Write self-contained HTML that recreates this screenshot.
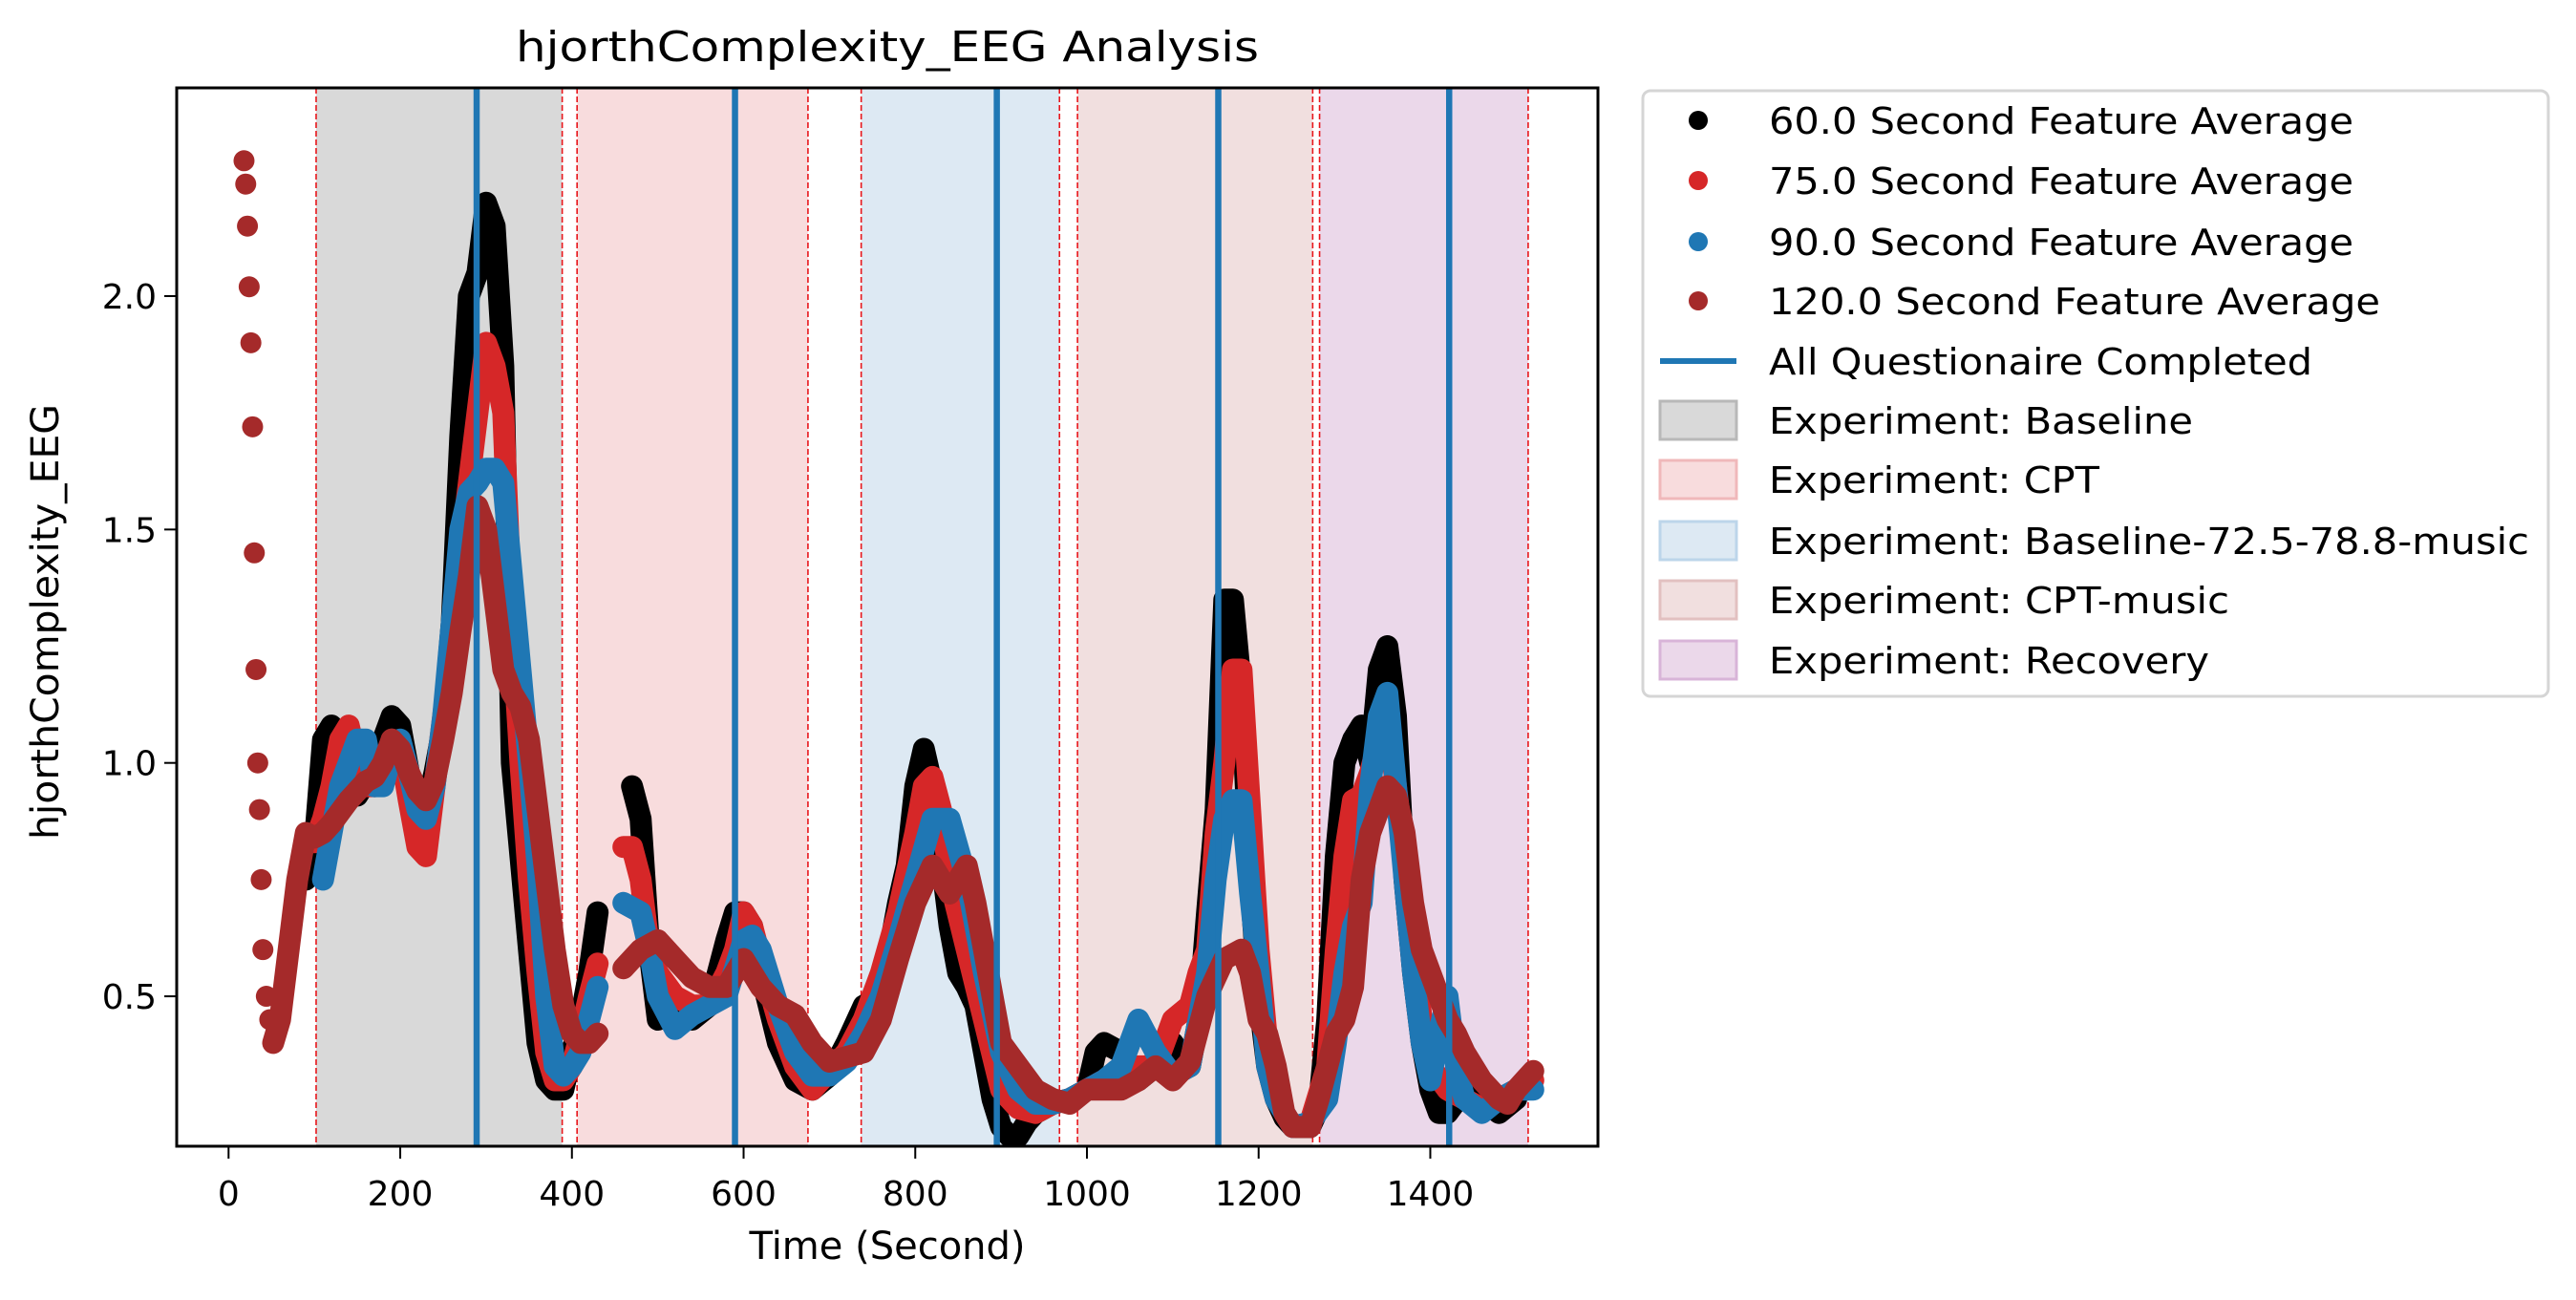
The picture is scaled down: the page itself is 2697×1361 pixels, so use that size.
<!DOCTYPE html>
<html><head><meta charset="utf-8"><style>
html,body{margin:0;padding:0;background:#fff;}
svg{display:block;font-family:"DejaVu Sans","Liberation Sans",sans-serif;}
</style></head><body>
<svg id="chart" xmlns="http://www.w3.org/2000/svg" width="2697" height="1361" viewBox="0 0 2697 1361">
<rect x="0" y="0" width="2697" height="1361" fill="#fff"/>
<g id="spans"></g>
<g id="dashes"></g>
<g id="series"></g>
<g id="vlines"></g>
<rect x="185" y="92" width="1488" height="1108" fill="none" stroke="#000" stroke-width="3"/>
<g id="axes"></g>
<text x="929" y="64" font-size="44" text-anchor="middle" textLength="778" lengthAdjust="spacingAndGlyphs">hjorthComplexity_EEG Analysis</text>
<text x="929" y="1318" font-size="40" text-anchor="middle">Time (Second)</text>
<text transform="translate(61,651) rotate(-90)" font-size="40" text-anchor="middle" textLength="456" lengthAdjust="spacingAndGlyphs">hjorthComplexity_EEG</text>
<g id="legend">
<rect x="1720" y="95" width="948" height="634" rx="8" fill="#fff" stroke="#d5d5d5" stroke-width="3"/>
</g>
</svg>
<script>
// ---- data ----
const xTicks = [0,200,400,600,800,1000,1200,1400];
const yTicks = [0.5,1.0,1.5,2.0];
const spanNames = ["Baseline","CPT","Baseline-72.5-78.8-music","CPT-music","Recovery"];
const spanStart = [102,406,737,989,1271];
const spanEnd = [388.7,675,968,1263,1514];
const questTimes = [289,590,895,1153,1422];

const blackT = [90,100,110,120,130,140,150,160,170,180,190,200,210,220,230,240,250,260,270,280,290,300,310,320,330,340,350,360,370,380,390,400,410,420,430,470,480,490,500,520,540,560,580,590,600,610,620,640,660,680,700,720,740,760,780,790,800,810,820,830,840,850,860,870,880,890,900,910,920,930,940,960,980,1000,1010,1020,1040,1060,1080,1100,1120,1130,1140,1150,1160,1170,1180,1190,1200,1210,1220,1230,1240,1260,1270,1280,1290,1300,1310,1320,1330,1340,1350,1360,1370,1380,1390,1400,1410,1420,1440,1460,1480,1500];
const blackV = [0.75,0.82,1.05,1.08,1.05,0.95,0.93,0.96,0.95,1.05,1.1,1.08,0.98,0.88,0.9,0.98,1.08,1.3,1.7,2.0,2.05,2.2,2.15,1.85,1.0,0.8,0.6,0.4,0.32,0.3,0.3,0.38,0.45,0.55,0.68,0.95,0.88,0.6,0.45,0.48,0.45,0.48,0.62,0.68,0.68,0.65,0.55,0.4,0.32,0.3,0.33,0.4,0.48,0.5,0.7,0.78,0.95,1.03,0.95,0.8,0.65,0.55,0.52,0.48,0.38,0.28,0.22,0.2,0.2,0.23,0.25,0.27,0.28,0.3,0.38,0.4,0.38,0.32,0.35,0.4,0.35,0.45,0.68,0.9,1.35,1.35,1.15,0.75,0.5,0.35,0.28,0.24,0.22,0.22,0.26,0.45,0.8,1.0,1.05,1.08,1.0,1.2,1.25,1.1,0.75,0.55,0.4,0.3,0.25,0.25,0.3,0.28,0.25,0.28];

const redT = [100,110,120,130,140,150,160,170,180,190,200,210,220,230,240,250,260,270,280,290,300,310,320,330,340,350,360,370,380,390,400,410,420,430,460,470,480,490,500,520,540,560,580,590,600,610,620,640,660,680,700,720,740,760,780,800,810,820,830,840,860,880,900,920,940,960,980,1000,1020,1040,1060,1080,1100,1120,1130,1140,1150,1160,1170,1180,1190,1200,1210,1220,1230,1240,1260,1280,1290,1300,1310,1320,1330,1340,1350,1360,1370,1380,1390,1400,1420,1440,1460,1480,1500,1520];
const redV = [0.83,0.88,0.95,1.05,1.08,1.0,0.95,0.95,0.98,1.05,1.03,0.92,0.82,0.8,0.95,1.1,1.25,1.45,1.6,1.75,1.9,1.85,1.75,1.3,1.0,0.75,0.55,0.38,0.32,0.32,0.35,0.42,0.5,0.57,0.82,0.82,0.75,0.6,0.55,0.5,0.48,0.48,0.55,0.6,0.68,0.65,0.58,0.45,0.35,0.3,0.34,0.38,0.45,0.55,0.68,0.85,0.95,0.97,0.9,0.75,0.6,0.45,0.3,0.26,0.25,0.27,0.28,0.3,0.32,0.32,0.35,0.35,0.45,0.48,0.55,0.6,0.85,1.0,1.2,1.2,0.9,0.6,0.4,0.3,0.25,0.22,0.23,0.35,0.6,0.8,0.92,0.93,0.98,1.05,1.1,0.95,0.8,0.6,0.45,0.35,0.3,0.28,0.26,0.28,0.3,0.32];

const blueT = [110,120,130,140,150,160,170,180,190,200,210,220,230,240,250,260,270,280,290,300,310,320,330,340,350,360,370,380,390,400,410,420,430,460,480,490,500,520,540,560,580,600,610,620,640,660,680,700,720,740,760,780,800,820,840,860,880,900,920,940,960,980,1000,1020,1040,1060,1080,1100,1120,1140,1150,1160,1170,1180,1190,1200,1210,1220,1240,1260,1280,1290,1300,1310,1320,1330,1340,1350,1360,1370,1380,1390,1400,1410,1420,1430,1440,1460,1480,1500,1520];
const blueV = [0.75,0.85,0.95,1.0,1.05,1.05,0.95,0.95,1.02,1.05,0.98,0.9,0.88,0.95,1.1,1.3,1.5,1.58,1.6,1.63,1.63,1.6,1.4,1.2,1.0,0.78,0.5,0.35,0.33,0.35,0.38,0.45,0.52,0.7,0.68,0.6,0.5,0.43,0.46,0.48,0.5,0.62,0.63,0.6,0.48,0.38,0.33,0.33,0.36,0.42,0.5,0.62,0.75,0.88,0.88,0.75,0.55,0.38,0.3,0.27,0.27,0.28,0.3,0.32,0.35,0.45,0.38,0.33,0.35,0.55,0.75,0.88,0.92,0.92,0.72,0.55,0.35,0.28,0.22,0.23,0.28,0.4,0.55,0.65,0.7,0.95,1.1,1.15,0.95,0.75,0.55,0.4,0.32,0.42,0.5,0.35,0.28,0.25,0.28,0.3,0.3];

const brownT = [18,20,22,24,26,28,30,32,34,36,38,40,44,48,52,60,70,80,90,100,110,120,140,160,170,180,190,200,210,220,230,240,250,260,270,280,290,300,310,320,330,340,350,360,370,380,390,400,410,420,430,460,480,500,520,540,560,580,600,620,640,660,680,700,720,740,760,780,800,820,840,860,870,880,890,900,920,940,960,980,1000,1020,1040,1060,1080,1100,1120,1140,1160,1180,1190,1200,1210,1220,1230,1240,1260,1270,1280,1290,1300,1310,1320,1330,1340,1350,1360,1370,1380,1390,1400,1410,1420,1430,1440,1450,1460,1470,1480,1490,1500,1510,1520];
const brownV = [2.29,2.24,2.15,2.02,1.9,1.72,1.45,1.2,1.0,0.9,0.75,0.6,0.5,0.45,0.4,0.45,0.6,0.75,0.85,0.84,0.85,0.87,0.92,0.96,0.97,1.0,1.05,1.03,0.98,0.94,0.92,0.96,1.05,1.15,1.28,1.4,1.55,1.5,1.35,1.2,1.15,1.12,1.05,0.9,0.75,0.6,0.48,0.42,0.4,0.4,0.42,0.56,0.6,0.62,0.58,0.54,0.52,0.52,0.58,0.52,0.48,0.46,0.4,0.36,0.37,0.38,0.45,0.58,0.7,0.78,0.72,0.78,0.7,0.6,0.5,0.4,0.35,0.3,0.28,0.27,0.3,0.3,0.3,0.32,0.35,0.32,0.36,0.5,0.58,0.6,0.55,0.45,0.42,0.35,0.25,0.22,0.22,0.28,0.35,0.42,0.45,0.52,0.75,0.85,0.9,0.95,0.93,0.85,0.7,0.6,0.55,0.5,0.45,0.42,0.38,0.35,0.32,0.3,0.28,0.27,0.3,0.32,0.34];

// ---- scales ----
const X0 = 239.3, XS = 0.8987;
const Y0 = 310, YS = 488.7;
function xs(t){ return X0 + t*XS; }
function ys(v){ return Y0 - (v-2.0)*YS; }
const NS = "http://www.w3.org/2000/svg";
function mk(tag, parent){ const e = document.createElementNS(NS, tag); parent.appendChild(e); return e; }

const spanFills = ["#d9d9d9","#f8dcdd","#dde9f3","#f1dfdf","#ebd8ea"];
const spanEdges = ["#b8b8b8","#f0b8ba","#bcd5ea","#e2c0c0","#d8b4d8"];
const spansG = document.getElementById('spans');
const dashG = document.getElementById('dashes');
for (let i=0;i<spanStart.length;i++){
  const r = mk('rect', spansG);
  
  
  r.setAttribute('x', xs(spanStart[i])); r.setAttribute('y', 92);
  r.setAttribute('width', xs(spanEnd[i]) - xs(spanStart[i])); r.setAttribute('height', 1108);
  r.setAttribute('fill', spanFills[i]);
  [spanStart[i], spanEnd[i]].forEach(function(t){
    const l = mk('line', dashG);
    
    
    l.setAttribute('x1', xs(t)); l.setAttribute('x2', xs(t));
    l.setAttribute('y1', 92); l.setAttribute('y2', 1200);
    l.setAttribute('stroke', '#e8161b'); l.setAttribute('stroke-width', 1.6);
    l.setAttribute('stroke-dasharray', '6,3');
  });
}

// series
const seriesG = document.getElementById('series');
function drawSeries(T, V, color, name){
  const g = mk('g', seriesG);
  
  
  let seg = [];
  function flush(){
    if (seg.length > 1){
      const p = mk('polyline', g);
      
      
      p.setAttribute('points', seg.join(' '));
      p.setAttribute('fill', 'none'); p.setAttribute('stroke', color);
      p.setAttribute('stroke-width', 23); p.setAttribute('stroke-linejoin', 'round'); p.setAttribute('stroke-linecap', 'round');
    }
    seg = [];
  }
  for (let i=0;i<T.length;i++){
    if (i>0 && (T[i]-T[i-1] > 25 || T[i] < 60)) flush();
    seg.push(xs(T[i]).toFixed(1) + ',' + ys(V[i]).toFixed(1));
    const c = mk('circle', g);
    
    
    c.setAttribute('cx', xs(T[i])); c.setAttribute('cy', ys(V[i])); c.setAttribute('r', 11);
    c.setAttribute('fill', color);
  }
  flush();
}
drawSeries(blackT, blackV, '#000000', 'series-60s');
drawSeries(redT, redV, '#d62728', 'series-75s');
drawSeries(blueT, blueV, '#1f77b4', 'series-90s');
drawSeries(brownT, brownV, '#a52a2a', 'series-120s');

// questionnaire lines
const vG = document.getElementById('vlines');
questTimes.forEach(function(t){
  const l = mk('line', vG);
  
  
  l.setAttribute('x1', xs(t)); l.setAttribute('x2', xs(t));
  l.setAttribute('y1', 92); l.setAttribute('y2', 1200);
  l.setAttribute('stroke', '#1f77b4'); l.setAttribute('stroke-width', 6.5);
});

// axes
const aG = document.getElementById('axes');
xTicks.forEach(function(t){
  const l = mk('line', aG);
  
  
  l.setAttribute('x1', xs(t)); l.setAttribute('x2', xs(t)); l.setAttribute('y1', 1200); l.setAttribute('y2', 1213);
  l.setAttribute('stroke', '#000'); l.setAttribute('stroke-width', 2);
  const tx = mk('text', aG);
  
  
  tx.setAttribute('x', xs(t)); tx.setAttribute('y', 1262); tx.setAttribute('font-size', 36);
  tx.setAttribute('text-anchor', 'middle');
  tx.textContent = String(t);
});
yTicks.forEach(function(v){
  const l = mk('line', aG);
  
  
  l.setAttribute('x1', 172); l.setAttribute('x2', 185); l.setAttribute('y1', ys(v)); l.setAttribute('y2', ys(v));
  l.setAttribute('stroke', '#000'); l.setAttribute('stroke-width', 2);
  const tx = mk('text', aG);
  
  
  tx.setAttribute('x', 164); tx.setAttribute('y', ys(v) + 13); tx.setAttribute('font-size', 36);
  tx.setAttribute('text-anchor', 'end');
  tx.textContent = v.toFixed(1);
});

// legend
const lg = document.getElementById('legend');
const legLabels = ["60.0 Second Feature Average","75.0 Second Feature Average","90.0 Second Feature Average","120.0 Second Feature Average","All Questionaire Completed","Experiment: Baseline","Experiment: CPT","Experiment: Baseline-72.5-78.8-music","Experiment: CPT-music","Experiment: Recovery"];
const legWidths = [612,612,612,640,569,444,346,796,482,461];
const legRowY = [126,189,253,315,378,440,502,566,628,691];
const dotColors = ['#000000','#d62728','#1f77b4','#a52a2a'];
for (let i=0;i<legLabels.length;i++){
  const y = legRowY[i];
  if (i < 4){
    const c = mk('circle', lg);
    
    
    c.setAttribute('cx', 1778); c.setAttribute('cy', y); c.setAttribute('r', 10); c.setAttribute('fill', dotColors[i]);
  } else if (i === 4){
    const l = mk('line', lg);
    
    
    l.setAttribute('x1', 1738); l.setAttribute('x2', 1818); l.setAttribute('y1', y); l.setAttribute('y2', y);
    l.setAttribute('stroke', '#1f77b4'); l.setAttribute('stroke-width', 6);
  } else {
    const r = mk('rect', lg);
    
    
    r.setAttribute('x', 1738); r.setAttribute('y', y - 20); r.setAttribute('width', 80); r.setAttribute('height', 40);
    r.setAttribute('fill', spanFills[i-5]); r.setAttribute('stroke', spanEdges[i-5]); r.setAttribute('stroke-width', 3);
  }
  const tx = mk('text', lg);
  
  
  tx.setAttribute('x', 1852); tx.setAttribute('y', y + 14); tx.setAttribute('font-size', 38);
  tx.setAttribute('textLength', legWidths[i]); tx.setAttribute('lengthAdjust', 'spacingAndGlyphs');
  tx.textContent = legLabels[i];
}
</script>
</body></html>
